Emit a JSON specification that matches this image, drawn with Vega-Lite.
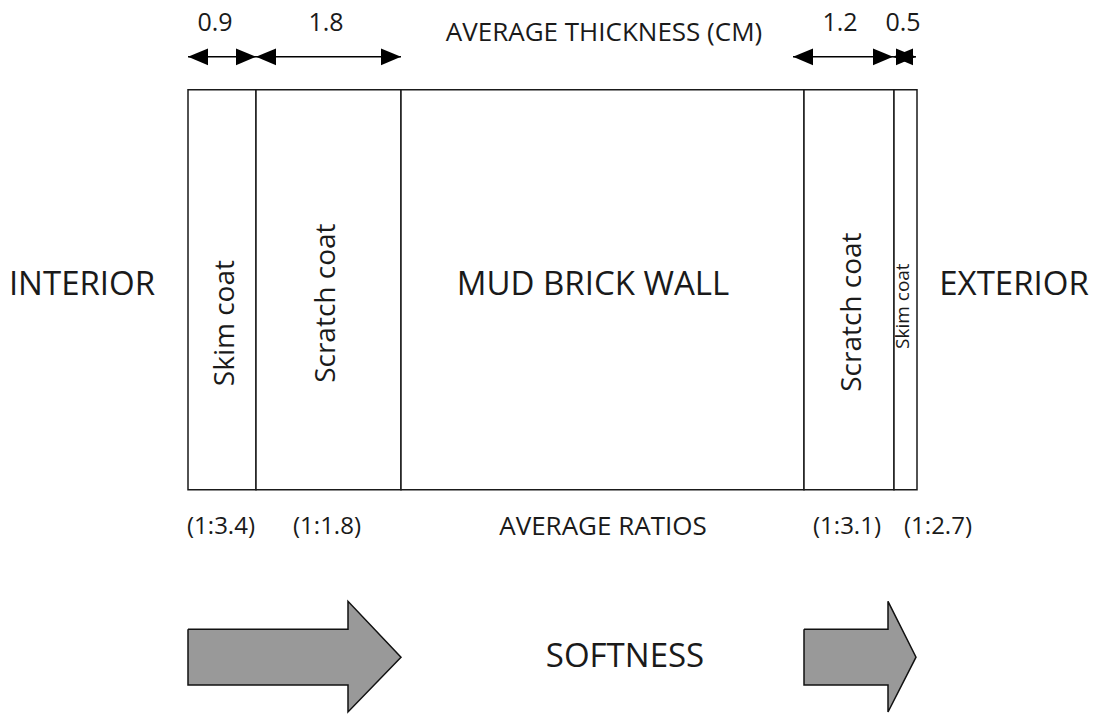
{
  "$schema": "https://vega.github.io/schema/vega-lite/v6.json",
  "width": 1096,
  "height": 715,
  "autosize": {"type": "fit", "contains": "padding"},
  "padding": 0,
  "background": "white",
  "config": {"view": {"stroke": null}, "text": {"font": "Open Sans", "fill": "#1a1a1a"}},
  "datasets": {
    "layers": [
      {"layer": "Interior skim coat", "x0": 188, "x1": 256, "y0": 90, "y1": 491},
      {"layer": "Interior scratch coat", "x0": 256, "x1": 401, "y0": 90, "y1": 491},
      {"layer": "Mud brick wall", "x0": 401, "x1": 804, "y0": 90, "y1": 491},
      {"layer": "Exterior scratch coat", "x0": 804, "x1": 894, "y0": 90, "y1": 491},
      {"layer": "Exterior skim coat", "x0": 894, "x1": 917, "y0": 90, "y1": 491}
    ],
    "dims": [
      {"thickness": "0.9", "from": 188, "to": 256, "y": 57},
      {"thickness": "1.8", "from": 256, "to": 401, "y": 57},
      {"thickness": "1.2", "from": 793, "to": 893, "y": 57},
      {"thickness": "0.5", "from": 893, "to": 916, "y": 57}
    ],
    "arrows": [
      {"arrow": "interior", "order": 1, "x": 188, "y": 631},
      {"arrow": "interior", "order": 2, "x": 348, "y": 631},
      {"arrow": "interior", "order": 3, "x": 348, "y": 603},
      {"arrow": "interior", "order": 4, "x": 401, "y": 659},
      {"arrow": "interior", "order": 5, "x": 348, "y": 714},
      {"arrow": "interior", "order": 6, "x": 348, "y": 687},
      {"arrow": "interior", "order": 7, "x": 188, "y": 687},
      {"arrow": "interior", "order": 8, "x": 188, "y": 631},
      {"arrow": "exterior", "order": 1, "x": 804, "y": 631},
      {"arrow": "exterior", "order": 2, "x": 888, "y": 631},
      {"arrow": "exterior", "order": 3, "x": 888, "y": 603},
      {"arrow": "exterior", "order": 4, "x": 916, "y": 659},
      {"arrow": "exterior", "order": 5, "x": 888, "y": 714},
      {"arrow": "exterior", "order": 6, "x": 888, "y": 687},
      {"arrow": "exterior", "order": 7, "x": 804, "y": 687},
      {"arrow": "exterior", "order": 8, "x": 804, "y": 631}
    ],
    "big": [
      {"text": "INTERIOR", "x": 82, "y": 286},
      {"text": "EXTERIOR", "x": 1014, "y": 286},
      {"text": "MUD BRICK WALL", "x": 593, "y": 286},
      {"text": "SOFTNESS", "x": 625, "y": 659}
    ],
    "nums": [
      {"text": "0.9", "x": 215, "y": 23},
      {"text": "1.8", "x": 326, "y": 23},
      {"text": "1.2", "x": 840, "y": 23},
      {"text": "0.5", "x": 903, "y": 23}
    ],
    "heads": [
      {"text": "AVERAGE THICKNESS (CM)", "x": 604, "y": 33},
      {"text": "AVERAGE RATIOS", "x": 603, "y": 528}
    ],
    "ratios": [
      {"text": "(1:3.4)", "x": 221, "y": 528},
      {"text": "(1:1.8)", "x": 327, "y": 528},
      {"text": "(1:3.1)", "x": 847, "y": 528},
      {"text": "(1:2.7)", "x": 938, "y": 528}
    ],
    "rot": [
      {"text": "Skim coat", "x": 226, "y": 324},
      {"text": "Scratch coat", "x": 327, "y": 304},
      {"text": "Scratch coat", "x": 853, "y": 313}
    ],
    "rotsmall": [
      {"text": "Skim coat", "x": 903, "y": 307}
    ]
  },
  "layer": [
    {
      "data": {"name": "layers"},
      "mark": {"type": "rect", "fill": "white", "stroke": "#1a1a1a", "strokeWidth": 1.5},
      "encoding": {
        "x": {"field": "x0", "type": "quantitative", "scale": {"domain": [0, 1096], "nice": false, "zero": false}, "axis": null},
        "x2": {"field": "x1"},
        "y": {"field": "y0", "type": "quantitative", "scale": {"domain": [0, 715], "nice": false, "zero": false, "reverse": true}, "axis": null},
        "y2": {"field": "y1"}
      }
    },
    {
      "data": {"name": "dims"},
      "mark": {"type": "rule", "stroke": "black", "strokeWidth": 1.5},
      "encoding": {
        "x": {"field": "from", "type": "quantitative", "scale": {"domain": [0, 1096], "nice": false, "zero": false}, "axis": null},
        "x2": {"field": "to"},
        "y": {"field": "y", "type": "quantitative", "scale": {"domain": [0, 715], "nice": false, "zero": false, "reverse": true}, "axis": null}
      }
    },
    {
      "data": {"name": "dims"},
      "mark": {"type": "point", "shape": "M0,0L1,-0.42L1,0.42Z", "filled": true, "fill": "black", "opacity": 1, "size": 1600},
      "encoding": {
        "x": {"field": "from", "type": "quantitative", "scale": {"domain": [0, 1096], "nice": false, "zero": false}, "axis": null},
        "y": {"field": "y", "type": "quantitative", "scale": {"domain": [0, 715], "nice": false, "zero": false, "reverse": true}, "axis": null}
      }
    },
    {
      "data": {"name": "dims"},
      "mark": {"type": "point", "shape": "M0,0L-1,-0.42L-1,0.42Z", "filled": true, "fill": "black", "opacity": 1, "size": 1600},
      "encoding": {
        "x": {"field": "to", "type": "quantitative", "scale": {"domain": [0, 1096], "nice": false, "zero": false}, "axis": null},
        "y": {"field": "y", "type": "quantitative", "scale": {"domain": [0, 715], "nice": false, "zero": false, "reverse": true}, "axis": null}
      }
    },
    {
      "data": {"name": "arrows"},
      "mark": {"type": "line", "fill": "#999999", "stroke": "#111111", "strokeWidth": 1.5, "opacity": 1, "fillOpacity": 1},
      "encoding": {
        "x": {"field": "x", "type": "quantitative", "scale": {"domain": [0, 1096], "nice": false, "zero": false}, "axis": null},
        "y": {"field": "y", "type": "quantitative", "scale": {"domain": [0, 715], "nice": false, "zero": false, "reverse": true}, "axis": null},
        "order": {"field": "order", "type": "quantitative"},
        "detail": {"field": "arrow", "type": "nominal"}
      }
    },
    {
      "data": {"name": "big"},
      "mark": {"type": "text", "fontSize": 33, "align": "center", "baseline": "middle"},
      "encoding": {
        "x": {"field": "x", "type": "quantitative", "scale": {"domain": [0, 1096], "nice": false, "zero": false}, "axis": null},
        "y": {"field": "y", "type": "quantitative", "scale": {"domain": [0, 715], "nice": false, "zero": false, "reverse": true}, "axis": null},
        "text": {"field": "text"}
      }
    },
    {
      "data": {"name": "nums"},
      "mark": {"type": "text", "fontSize": 25, "align": "center", "baseline": "middle"},
      "encoding": {
        "x": {"field": "x", "type": "quantitative", "scale": {"domain": [0, 1096], "nice": false, "zero": false}, "axis": null},
        "y": {"field": "y", "type": "quantitative", "scale": {"domain": [0, 715], "nice": false, "zero": false, "reverse": true}, "axis": null},
        "text": {"field": "text"}
      }
    },
    {
      "data": {"name": "heads"},
      "mark": {"type": "text", "fontSize": 26, "align": "center", "baseline": "middle"},
      "encoding": {
        "x": {"field": "x", "type": "quantitative", "scale": {"domain": [0, 1096], "nice": false, "zero": false}, "axis": null},
        "y": {"field": "y", "type": "quantitative", "scale": {"domain": [0, 715], "nice": false, "zero": false, "reverse": true}, "axis": null},
        "text": {"field": "text"}
      }
    },
    {
      "data": {"name": "ratios"},
      "mark": {"type": "text", "fontSize": 24, "align": "center", "baseline": "middle"},
      "encoding": {
        "x": {"field": "x", "type": "quantitative", "scale": {"domain": [0, 1096], "nice": false, "zero": false}, "axis": null},
        "y": {"field": "y", "type": "quantitative", "scale": {"domain": [0, 715], "nice": false, "zero": false, "reverse": true}, "axis": null},
        "text": {"field": "text"}
      }
    },
    {
      "data": {"name": "rot"},
      "mark": {"type": "text", "fontSize": 28, "align": "center", "baseline": "middle", "angle": 270},
      "encoding": {
        "x": {"field": "x", "type": "quantitative", "scale": {"domain": [0, 1096], "nice": false, "zero": false}, "axis": null},
        "y": {"field": "y", "type": "quantitative", "scale": {"domain": [0, 715], "nice": false, "zero": false, "reverse": true}, "axis": null},
        "text": {"field": "text"}
      }
    },
    {
      "data": {"name": "rotsmall"},
      "mark": {"type": "text", "fontSize": 19, "align": "center", "baseline": "middle", "angle": 270},
      "encoding": {
        "x": {"field": "x", "type": "quantitative", "scale": {"domain": [0, 1096], "nice": false, "zero": false}, "axis": null},
        "y": {"field": "y", "type": "quantitative", "scale": {"domain": [0, 715], "nice": false, "zero": false, "reverse": true}, "axis": null},
        "text": {"field": "text"}
      }
    }
  ]
}
